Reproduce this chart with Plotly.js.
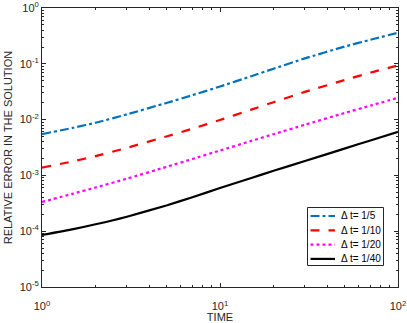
<!DOCTYPE html>
<html>
<head>
<meta charset="utf-8">
<script src="https://cdn.plot.ly/plotly-3.0.1.min.js"></script>
<style>html,body{margin:0;padding:0;background:#fff;}#chart{width:407px;height:323px;}</style>
</head>
<body>
<div id="chart"></div>
<script>
var time = [1, 1.5, 2, 3, 5, 7, 10, 15, 20, 30, 50, 70, 100];
var err_dt5  = [0.0055, 0.00714, 0.00879, 0.01242, 0.01986, 0.0274, 0.0392, 0.060, 0.0817, 0.125, 0.203, 0.270, 0.360];
var err_dt10 = [0.00138, 0.00179, 0.00221, 0.00312, 0.00499, 0.00688, 0.00984, 0.0151, 0.0205, 0.0314, 0.0510, 0.0695, 0.0933];
var err_dt20 = [0.000334, 0.000472, 0.000607, 0.000873, 0.00142, 0.00197, 0.00279, 0.00415, 0.00548, 0.00809, 0.0131, 0.0178, 0.0246];
var err_dt40 = [0.0000857, 0.000109, 0.000133, 0.000182, 0.000289, 0.000407, 0.000593, 0.000899, 0.00121, 0.00181, 0.00302, 0.00423, 0.00604];
var seriesNames = ["\u0394 t= 1/5", "\u0394 t= 1/10", "\u0394 t= 1/20", "\u0394 t= 1/40"];
var xTickVals = [1, 10, 100];
var xTickText = ["10<sup>0</sup>", "10<sup>1</sup>", "10<sup>2</sup>"];
var yTickVals = [1e-5, 1e-4, 1e-3, 1e-2, 1e-1, 1];
var yTickText = ["10<sup>-5</sup>", "10<sup>-4</sup>", "10<sup>-3</sup>", "10<sup>-2</sup>", "10<sup>-1</sup>", "10<sup>0</sup>"];

var ys = [err_dt5, err_dt10, err_dt20, err_dt40];
var colors = ["#0072BD", "#FF0000", "#FF00FF", "#000000"];
var dashes = ["dashdot", "dash", "dot", "solid"];
var traces = ys.map(function (y, i) {
  return {x: time, y: y, name: seriesNames[i], type: "scatter", mode: "lines", showlegend: false,
    line: {color: colors[i], width: 2.2, dash: dashes[i], shape: "spline", smoothing: 0.5}};
});

// legend drawn in paper coordinates (MATLAB-style compact box)
var W = 407, H = 323, mL = 42, mR = 9, mT = 8, mB = 36;
var pw = W - mL - mR, ph = H - mT - mB;
function px(x) { return (x - mL) / pw; }
function py(y) { return (H - mB - y) / ph; }
var shapes = [{type: "rect", xref: "paper", yref: "paper", x0: px(307.5), x1: px(383.5), y0: py(265.5), y1: py(207.5),
  line: {color: "#262626", width: 1}, fillcolor: "#fff", layer: "above"}];
var annotations = [];
seriesNames.forEach(function (n, i) {
  var rowY = 216 + i * 14.3;
  shapes.push({type: "line", xref: "paper", yref: "paper", x0: px(310.5), x1: px(335), y0: py(rowY), y1: py(rowY),
    line: {color: colors[i], width: 2.2, dash: dashes[i]}, layer: "above"});
  annotations.push({xref: "paper", yref: "paper", x: px(338.5), y: py(rowY), xanchor: "left", yanchor: "middle",
    text: n, showarrow: false, font: {size: 10, color: "#000"}});
});

var axisCommon = {type: "log", showgrid: false, zeroline: false, showline: true, linecolor: "#262626",
  linewidth: 1, mirror: "ticks", ticks: "inside", ticklen: 4, tickcolor: "#262626",
  ticklabeloverflow: "allow", automargin: false,
  tickfont: {family: "Liberation Sans, Arial, sans-serif", size: 11, color: "#262626"},
  minor: {ticks: "inside", ticklen: 2, tickcolor: "#262626", dtick: "D1", showgrid: false}};
var layout = {
  width: W, height: H,
  margin: {l: mL, r: mR, t: mT, b: mB},
  paper_bgcolor: "#fff", plot_bgcolor: "#fff",
  font: {family: "Liberation Sans, Arial, sans-serif", size: 11, color: "#262626"},
  showlegend: false,
  shapes: shapes,
  annotations: annotations,
  xaxis: Object.assign({}, axisCommon, {range: [0, 2], tickvals: xTickVals, ticktext: xTickText,
    ticklabelstandoff: 9,
    title: {text: "TIME", font: {size: 11, color: "#262626"}, standoff: 0}}),
  yaxis: Object.assign({}, axisCommon, {range: [-5, 0], tickvals: yTickVals, ticktext: yTickText,
    title: {text: "RELATIVE ERROR IN THE SOLUTION", font: {size: 11, color: "#262626"}, standoff: 4}})
};
Plotly.newPlot("chart", traces, layout, {displayModeBar: false, staticPlot: true});
</script>
</body>
</html>
